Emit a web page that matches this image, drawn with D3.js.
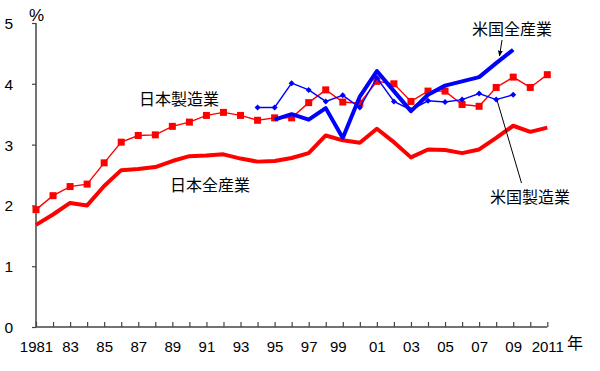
<!DOCTYPE html>
<html><head><meta charset="utf-8">
<script src="https://cdn.jsdelivr.net/npm/d3@7"></script>
<style>body{margin:0;background:#fff}svg{display:block}</style>
</head><body>
<svg id="c" width="600" height="371"></svg>
<script>
const years = d3.range(1981, 2012);
const jpMfg = [1.93,2.16,2.31,2.35,2.70,3.04,3.15,3.16,3.30,3.37,3.48,3.53,3.48,3.40,3.44,3.44,3.69,3.90,3.70,3.68,4.04,4.00,3.71,3.88,3.88,3.66,3.63,3.94,4.11,3.94,4.15];
const jpAll = [1.68,1.85,2.04,2.00,2.32,2.58,2.60,2.63,2.73,2.81,2.82,2.84,2.77,2.72,2.73,2.78,2.86,3.15,3.07,3.03,3.26,3.04,2.79,2.92,2.91,2.86,2.92,3.11,3.31,3.21,3.28];
const usMfgYears = d3.range(1994, 2010);
const usMfg = [3.61,3.61,4.01,3.90,3.71,3.81,3.61,4.10,3.71,3.57,3.72,3.70,3.74,3.84,3.74,3.82];
const usAllYears = d3.range(1995, 2010);
const usAll = [3.41,3.50,3.41,3.60,3.11,3.79,4.21,3.88,3.55,3.82,3.97,4.04,4.11,4.34,4.56];
const yTicks = [0,1,2,3,4,5];
const xTickLabels = {1981:"1981",1983:"83",1985:"85",1987:"87",1989:"89",1991:"91",1993:"93",1995:"95",1997:"97",1999:"99",2001:"01",2003:"03",2005:"05",2007:"07",2009:"09",2011:"2011"};
const labels = [
  {t:"日本製造業", x:139, y:99},
  {t:"日本全産業", x:170, y:185},
  {t:"米国全産業", x:472, y:29},
  {t:"米国製造業", x:490, y:197}
];

const svg = d3.select("#c");
const x = d3.scaleLinear().domain([1981, 2011]).range([36, 547.3]);
const y = d3.scaleLinear().domain([0, 5]).range([327, 23]);
const RED = "#ff0000", BLUE = "#0000ff", AX = "#444";
const numFont = "'Liberation Sans', Arial, sans-serif";
const jpFont = "'Noto Sans CJK JP', sans-serif";

// axes
const gy = svg.append("g").attr("transform","translate(36,0)")
  .call(d3.axisLeft(y).tickValues(yTicks).tickSize(4).tickPadding(19).tickFormat(d3.format("d")));
gy.select(".domain").attr("stroke",AX).attr("stroke-width",1.5).attr("d","M0,23V327");
gy.selectAll(".tick line").attr("stroke",AX).attr("stroke-width",1.2);
gy.selectAll(".tick text").attr("font-family",numFont).attr("font-size",15.5).attr("fill","#000").attr("dy","0.35em");

const gx = svg.append("g").attr("transform","translate(0,327)")
  .call(d3.axisBottom(x).tickValues(years).tickSize(-5).tickPadding(14).tickFormat(d => xTickLabels[d] || ""));
gx.select(".domain").attr("stroke",AX).attr("stroke-width",1.5).attr("d","M36,0H547.3");
gx.selectAll(".tick line").attr("stroke",AX).attr("stroke-width",1.2);
gx.selectAll(".tick text").attr("font-family",numFont).attr("font-size",15).attr("fill","#000")
  .attr("dx", d => d === 1999 ? -5 : 0);

svg.append("text").attr("x",29).attr("y",21).attr("font-family",numFont).attr("font-size",17).text("%");
svg.append("text").attr("x",567).attr("y",349).attr("font-family",jpFont).attr("font-size",16).text("年");

const line = d3.line().x(d => x(d[0])).y(d => y(d[1]));

// Japan all industries
svg.append("path").datum(years.map((yr,i)=>[yr,jpAll[i]]))
  .attr("d",line).attr("fill","none").attr("stroke",RED).attr("stroke-width",4).attr("stroke-linejoin","round");
// Japan manufacturing
const jm = years.map((yr,i)=>[yr,jpMfg[i]]);
svg.append("path").datum(jm).attr("d",line).attr("fill","none").attr("stroke",RED).attr("stroke-width",1.4);
svg.selectAll(".jm").data(jm).enter().append("rect").attr("class","jm")
  .attr("x",d=>x(d[0])-3.5).attr("y",d=>y(d[1])-3.5).attr("width",7).attr("height",7).attr("fill",RED);
// US all industries
svg.append("path").datum(usAllYears.map((yr,i)=>[yr,usAll[i]]))
  .attr("d",line).attr("fill","none").attr("stroke",BLUE).attr("stroke-width",4).attr("stroke-linejoin","round");
// US manufacturing
const um = usMfgYears.map((yr,i)=>[yr,usMfg[i]]);
svg.append("path").datum(um).attr("d",line).attr("fill","none").attr("stroke",BLUE).attr("stroke-width",1.4);
svg.selectAll(".um").data(um).enter().append("path").attr("class","um")
  .attr("d",d=>`M${x(d[0])},${y(d[1])-3}l3,3l-3,3l-3,-3z`).attr("fill",BLUE);

// labels
svg.selectAll(".lb").data(labels).enter().append("text").attr("class","lb")
  .attr("x",d=>d.x).attr("y",d=>d.y).attr("dy","0.36em")
  .attr("font-family",jpFont).attr("font-size",16).attr("fill","#000").text(d=>d.t);

// leader lines
svg.append("defs").append("marker").attr("id","ah").attr("viewBox","0 0 10 10")
  .attr("refX",9).attr("refY",5).attr("markerWidth",6).attr("markerHeight",6).attr("orient","auto")
  .append("path").attr("d","M0,1L10,5L0,9z").attr("fill","#000");
svg.append("line").attr("x1",502).attr("y1",40).attr("x2",499.5).attr("y2",56)
  .attr("stroke","#000").attr("stroke-width",1).attr("marker-end","url(#ah)");
svg.append("line").attr("x1",x(2008)+1).attr("y1",y(3.74)+1).attr("x2",521.5).attr("y2",183)
  .attr("stroke","#000").attr("stroke-width",1);
</script>
</body></html>
